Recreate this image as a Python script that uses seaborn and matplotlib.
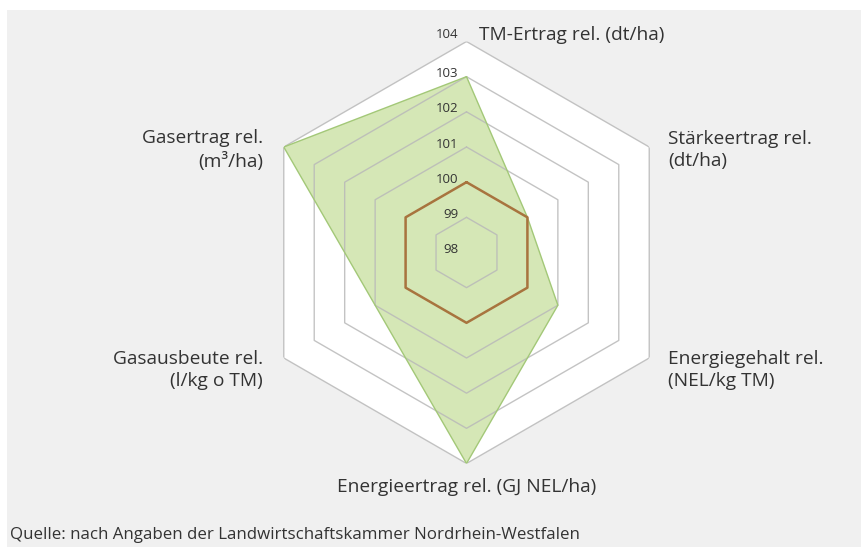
import numpy as np
import matplotlib
matplotlib.use("Agg")
import matplotlib.pyplot as plt
from matplotlib.patches import Rectangle
import seaborn as sns

# ---- data ----
categories = [
    "TM-Ertrag rel. (dt/ha)",
    "Stärkeertrag rel.\n(dt/ha)",
    "Energiegehalt rel.\n(NEL/kg TM)",
    "Energieertrag rel. (GJ NEL/ha)",
    "Gasausbeute rel.\n(l/kg o TM)",
    "Gasertrag rel.\n(m³/ha)",
]
sorte_values = [103, 100, 101, 104, 101, 104]
reference_values = [100, 100, 100, 100, 100, 100]
tick_values = [98, 99, 100, 101, 102, 103, 104]
source_text = "Quelle: nach Angaben der Landwirtschaftskammer Nordrhein-Westfalen"

sns.set_theme(style="white")
plt.rcParams['font.family'] = ['Open Sans', 'DejaVu Sans']

W, H = 861, 547
fig = plt.figure(figsize=(W / 100, H / 100), dpi=100)
fig.patch.set_facecolor('white')
fig.patches.append(Rectangle((7 / W, 0), 1 - 7 / W, 1 - 10 / H, transform=fig.transFigure,
                             facecolor='#f0f0f0', edgecolor='none', zorder=-10))


def px(x, y):
    return x / W, 1 - y / H


cx, cy, R = 466.5, 252.5, 211
ax = fig.add_axes([(cx - R) / W, (H - cy - R) / H, 2 * R / W, 2 * R / H], projection='polar')
ax.set_theta_offset(np.pi / 2)
ax.set_theta_direction(-1)
ax.set_facecolor('none')
ax.grid(False)
ax.spines['polar'].set_visible(False)

n = len(categories)
theta = np.linspace(0, 2 * np.pi, n, endpoint=False)
closed_theta = np.append(theta, theta[0])
sorte_closed = np.append(sorte_values, sorte_values[0])
ref_closed = np.append(reference_values, reference_values[0])

# white hexagon background
ax.fill(closed_theta, [tick_values[-1]] * (n + 1), facecolor='white', edgecolor='none', zorder=0)

# green area
ax.fill(closed_theta, sorte_closed, facecolor='#d5e7b6', edgecolor='none', zorder=1)

# hexagonal grid rings
for v in tick_values[1:]:
    ax.plot(closed_theta, [v] * (n + 1), color='#b9b9b9', lw=1.0, alpha=0.85, zorder=2)

sns.lineplot(x=closed_theta, y=sorte_closed, sort=False, estimator=None, ax=ax,
             color='#a3c878', lw=1.0, zorder=3)
sns.lineplot(x=closed_theta, y=ref_closed, sort=False, estimator=None, ax=ax,
             color='#a8743e', lw=1.8, zorder=4)

ax.set_ylim(tick_values[0], tick_values[-1])
ax.set_xticks([])
ax.set_yticks([])
ax.set_xlabel('')
ax.set_ylabel('')

for v in tick_values:
    dy = 7 if v == tick_values[-1] else 3
    ax.annotate(str(v), xy=(0, v), xytext=(-8, dy), textcoords='offset pixels',
                ha='right', va='center', fontsize=9.5, color='#333333', zorder=5)

lab_kw = dict(fontsize=13.8, color='#333333', linespacing=1.3)
fig.text(*px(479, 35), categories[0], ha='left', va='center', **lab_kw)
fig.text(*px(668, 150), categories[1], ha='left', va='center', **lab_kw)
fig.text(*px(668, 370), categories[2], ha='left', va='center', **lab_kw)
fig.text(*px(467, 487), categories[3], ha='center', va='center', **lab_kw)
fig.text(*px(263, 370), categories[4], ha='right', va='center', multialignment='right', **lab_kw)
fig.text(*px(263, 150), categories[5], ha='right', va='center', multialignment='right', **lab_kw)
fig.text(*px(10, 527), source_text, ha='left', va='top', fontsize=12.2, color='#333333')

fig.savefig('out.png', dpi=100, facecolor=fig.get_facecolor())
